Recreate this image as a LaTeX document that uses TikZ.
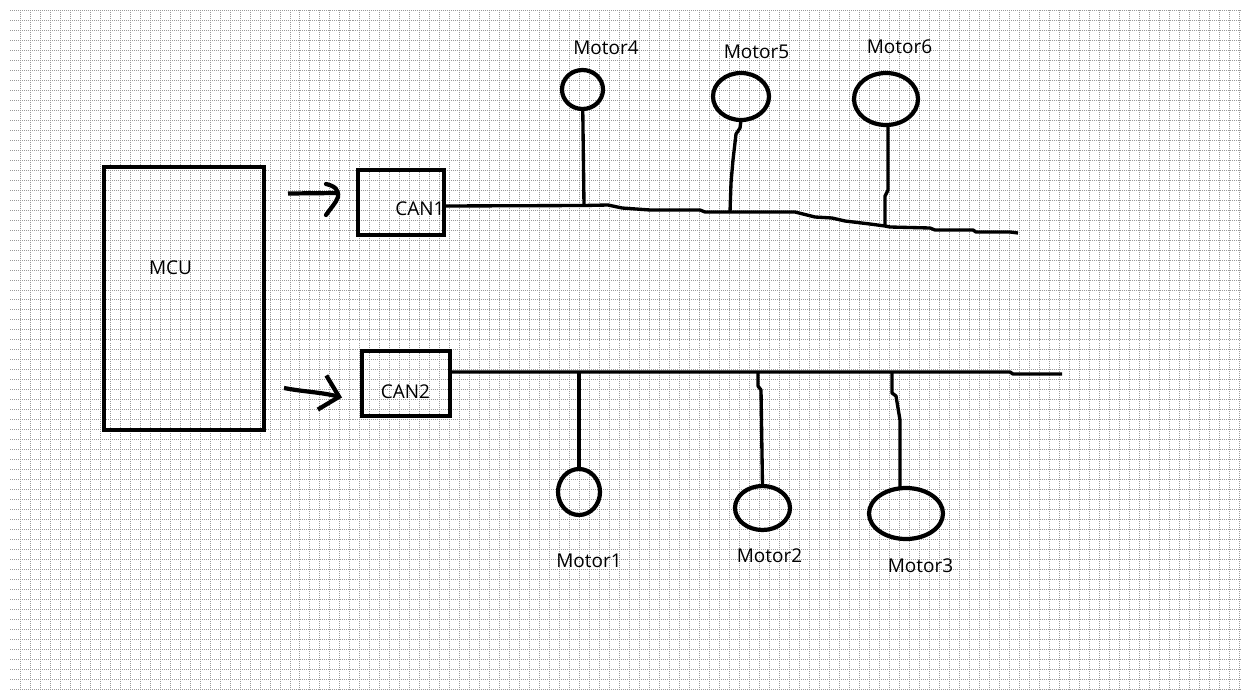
\documentclass[tikz,border=0pt]{standalone}
\usepackage{fontspec}
\setmainfont{Open Sans}
\usetikzlibrary{positioning, arrows.meta, calc, shapes.geometric}

\begin{document}
\begin{tikzpicture}[
    x=0.02cm, y=-0.02cm,
    gridline/.style={gray!80, line width=0.5pt, dash pattern=on 0.57pt off 0.57pt},
    box/.style={draw, line width=2.4pt, inner sep=0pt, outer sep=0pt},
    motor/.style={draw, ellipse, line width=2.4pt, inner sep=0pt, outer sep=0pt},
    lbl/.style={anchor=base, inner sep=0pt, font=\fontsize{10.8}{13}\selectfont},
    bus/.style={line width=1.9pt, line join=round},
    stem/.style={line width=1.9pt, line join=round},
    pen/.style={line width=2.4pt, line join=round},
]

% paper with grid
\fill[white] (0,0) rectangle (1241,693);
\useasboundingbox (0,0) rectangle (1241,693);
\draw[gridline, step=0.2cm] (10,10) grid (1240,690);

% MCU and CAN boxes
\node[box, minimum width=3.2cm, minimum height=5.26cm] (mcu) at (184,298.5) {};
\node[lbl] (mcutext) at (170.5,274) {MCU};
\node[box, minimum width=1.72cm, minimum height=1.3cm] (can1) at (401,202.5) {};
\node[lbl] (can1text) at (420,215) {CAN1};
\node[box, minimum width=1.76cm, minimum height=1.3cm] (can2) at (406,383.5) {};
\node[lbl] (can2text) at (405.5,398) {CAN2};

% arrows MCU -> CAN (hand drawn heads)
\coordinate (in1) at (288,193.5);
\coordinate (in2) at (284,388);
\coordinate (tip1) at ($(can1.west)+(-20,-9.5)$);
\draw[pen] (in1) -- (tip1);
\draw[pen, line cap=round] ($(tip1)+(-12,-9)$) .. controls ($(tip1)+(-3,-7)$) and ($(tip1)+(1,-3)$) .. ($(tip1)+(0,4)$)
    .. controls ($(tip1)+(-2,10)$) and ($(tip1)+(-8,16)$) .. ($(tip1)+(-12,22)$);
\draw[pen, -{Straight Barb[length=10pt, width=20pt]}] (in2) .. controls (305,392) and (320,392) .. ($(can2.west)+(-20,14)$);

% bus lines
\draw[bus] ([yshift=-0.07cm]can1.east) -- (584,205.5) coordinate (tap4) -- (608,205) -- (622,208)
    -- (650,210) -- (700,210) -- (705,212) -- (730,212) coordinate (tap5) -- (795,212)
    -- (815,217) -- (832,218) -- (845,221) -- (870,224) -- (885,226) coordinate (tap6)
    -- (890,227) -- (930,228) -- (935,230) -- (973,230) -- (976,232) -- (1010,232)
    -- (1018,233) coordinate (bus1end);
\draw[bus] ([yshift=0.23cm]can2.east) -- (579,372) coordinate (tap1) -- (758,372) coordinate (tap2)
    -- (892,372) coordinate (tap3) -- (1010,372) -- (1013,374) -- (1062,374) coordinate (bus2end);

% motors on CAN1
\node[motor, minimum width=0.82cm, minimum height=0.78cm] (motor4) at (582.5,89.5) {};
\node[lbl] (motor4text) at (606,54) {Motor4};
\node[motor, minimum width=1.12cm, minimum height=0.94cm] (motor5) at (741,96.5) {};
\node[lbl] (motor5text) at (756.5,58) {Motor5};
\node[motor, minimum width=1.28cm, minimum height=1.04cm] (motor6) at (886,99) {};
\node[lbl] (motor6text) at (899.5,53) {Motor6};

\draw[stem] (motor4) -- (tap4);
\draw[stem] (motor5.south) -- (740,128) -- (736,134) -- (733,160) -- (731,183) -- (tap5);
\draw[stem] ($(motor6.south)+(2,0)$) -- (888,190) -- (885,196) -- (tap6);

% motors on CAN2
\node[motor, minimum width=0.84cm, minimum height=0.92cm] (motor1) at (579,492) {};
\node[lbl] (motor1text) at (589,567) {Motor1};
\node[motor, minimum width=1.10cm, minimum height=0.88cm] (motor2) at (762.5,508) {};
\node[lbl] (motor2text) at (769.5,562) {Motor2};
\node[motor, minimum width=1.48cm, minimum height=1.02cm] (motor3) at (906,513.5) {};
\node[lbl] (motor3text) at (920.5,572) {Motor3};

\draw[stem] (tap1) -- (motor1);
\draw[stem] (tap2) -- (758,386) -- (761,390) -- (motor2.north);
\draw[stem] (tap3) -- (892,393) -- (896,396) -- (900,420) -- ($(motor3.north)+(-6,0)$);

\end{tikzpicture}
\end{document}
